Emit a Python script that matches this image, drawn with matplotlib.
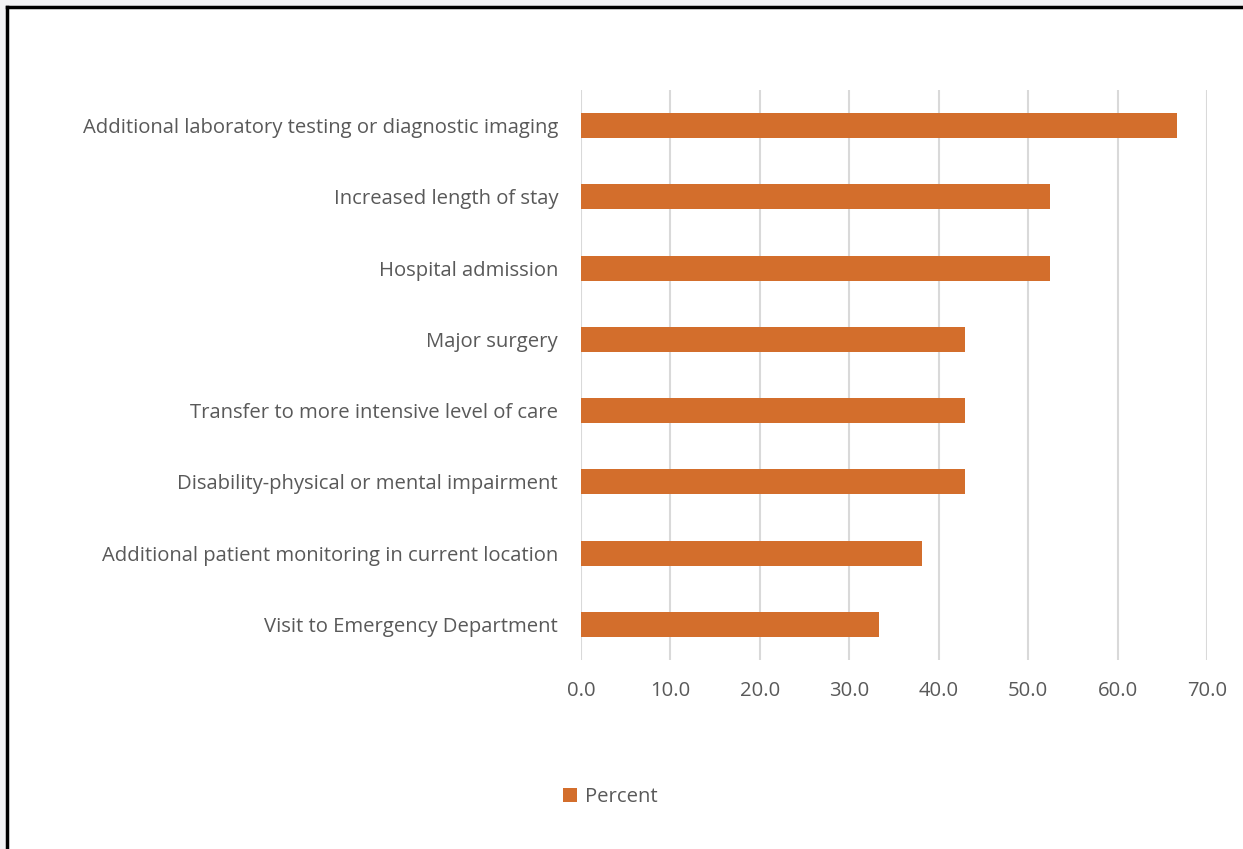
import matplotlib.pyplot as plt
from matplotlib.patches import Rectangle
from matplotlib.lines import Line2D

categories = [
    'Additional laboratory testing or diagnostic imaging',
    'Increased length of stay',
    'Hospital admission',
    'Major surgery',
    'Transfer to more intensive level of care',
    'Disability-physical or mental impairment',
    'Additional patient monitoring in current location',
    'Visit to Emergency Department',
]
percent = [66.7, 52.4, 52.4, 42.9, 42.9, 42.9, 38.1, 33.3]
xticks = [0, 10, 20, 30, 40, 50, 60, 70]

W, H = 1243, 849
bar_color = '#D36E2C'
text_color = '#595959'

plt.rcParams['font.family'] = ['Open Sans', 'DejaVu Sans']

fig = plt.figure(figsize=(W / 100, H / 100), dpi=100)
fig.patch.set_facecolor('#f3f3f5')

# white panel with black border (top/left visible)
fig.add_artist(Rectangle((7 / W, -0.1), 1.2, 1 - 7 / H + 0.1, transform=fig.transFigure,
                         facecolor='white', edgecolor='none', zorder=0))
fig.add_artist(Line2D([7 / W, 7 / W], [0, 1 - 7 / H], transform=fig.transFigure,
                      color='black', lw=2.5, zorder=1))
fig.add_artist(Line2D([7 / W, 1], [1 - 7 / H, 1 - 7 / H], transform=fig.transFigure,
                      color='black', lw=2.5, zorder=1))

ax = fig.add_axes([581 / W, 1 - 660 / H, (1207 - 581) / W, (660 - 90) / H])
ax.set_facecolor('none')

y = list(range(len(categories)))
ax.barh(y, percent, height=0.35, color=bar_color, label='Percent', zorder=3)
ax.set_ylim(len(categories) - 0.5, -0.5)
ax.set_xlim(0, 70)
ax.set_yticks(y)
ax.set_yticklabels(categories, fontsize=14.6, color=text_color)
ax.set_xticks(xticks)
ax.set_xticklabels([f'{v:.1f}' for v in xticks], fontsize=14.6, color=text_color)
ax.tick_params(length=0)
ax.tick_params(axis='y', pad=16.5)
ax.tick_params(axis='x', pad=15)
ax.grid(axis='x', color='#D9D9D9', lw=1.5, zorder=0)
for s in ax.spines.values():
    s.set_visible(False)

fig.legend(loc='center', bbox_to_anchor=(610 / W, 1 - 797 / H), frameon=False,
           fontsize=14.6, labelcolor=text_color, handlelength=0.7, handleheight=0.7,
           handletextpad=0.4)

plt.savefig('out.png', dpi=100)
